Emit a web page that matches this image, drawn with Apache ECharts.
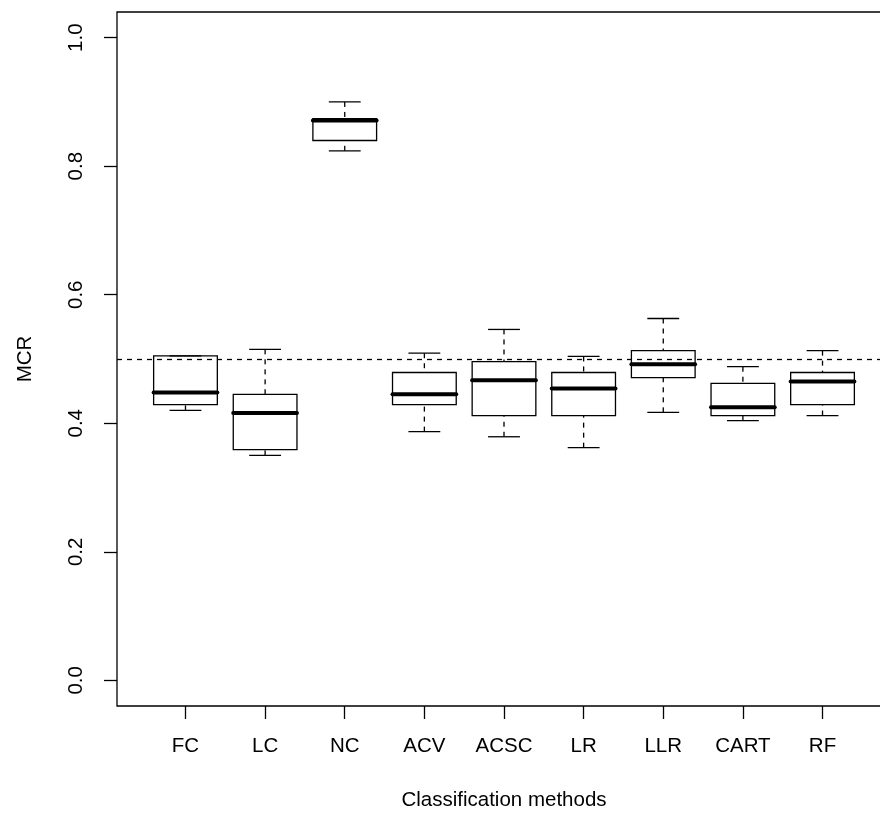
<!DOCTYPE html>
<html>
<head>
<meta charset="utf-8">
<title>MCR by classification method</title>
<script src="https://cdn.jsdelivr.net/npm/echarts@6/dist/echarts.min.js"></script>
<style>
  html, body { margin: 0; padding: 0; background: #fff; }
  #chart { width: 880px; height: 815px; }
</style>
</head>
<body>
<div id="chart"></div>
<script>
// Misclassification rate (MCR) summaries per classification method
const categories = ['FC', 'LC', 'NC', 'ACV', 'ACSC', 'LR', 'LLR', 'CART', 'RF'];
const whiskerLow    = [0.420, 0.350, 0.824, 0.387, 0.379, 0.362, 0.417, 0.404, 0.412];
const lowerQuartile = [0.429, 0.359, 0.840, 0.429, 0.412, 0.412, 0.471, 0.412, 0.429];
const medians       = [0.448, 0.416, 0.871, 0.445, 0.467, 0.454, 0.492, 0.425, 0.465];
const upperQuartile = [0.505, 0.445, 0.874, 0.479, 0.496, 0.479, 0.513, 0.462, 0.479];
const whiskerHigh   = [0.505, 0.515, 0.900, 0.509, 0.546, 0.504, 0.563, 0.488, 0.513];
const yTicks = [0, 0.2, 0.4, 0.6, 0.8, 1.0];
const referenceMCR = 0.5;

const positions = categories.map((_, i) => i + 1);
const boxData = categories.map((_, i) => [
  positions[i], whiskerLow[i], lowerQuartile[i], medians[i], upperQuartile[i], whiskerHigh[i]
]);

const FONT = "'Liberation Sans', Arial, Helvetica, sans-serif";
const FS = 20.5;
const INK = '#000';
const LW = 1.3;

function renderBox(params, api) {
  const x = api.value(0);
  const pLo = api.coord([x, api.value(1)]);
  const pQ1 = api.coord([x, api.value(2)]);
  const pMed = api.coord([x, api.value(3)]);
  const pQ3 = api.coord([x, api.value(4)]);
  const pHi = api.coord([x, api.value(5)]);
  const cx = pMed[0];
  const half = api.size([0.8, 0])[0] / 2;
  const staple = half / 2;
  const solid = { stroke: INK, lineWidth: LW, fill: null };
  const dashed = { stroke: INK, lineWidth: LW, lineDash: [5, 5], fill: null };
  return {
    type: 'group',
    children: [
      { type: 'line', shape: { x1: cx, y1: pHi[1], x2: cx, y2: pQ3[1] }, style: dashed },
      { type: 'line', shape: { x1: cx, y1: pLo[1], x2: cx, y2: pQ1[1] }, style: dashed },
      { type: 'line', shape: { x1: cx - staple, y1: pHi[1], x2: cx + staple, y2: pHi[1] }, style: solid },
      { type: 'line', shape: { x1: cx - staple, y1: pLo[1], x2: cx + staple, y2: pLo[1] }, style: solid },
      { type: 'rect', shape: { x: cx - half, y: pQ3[1], width: 2 * half, height: pQ1[1] - pQ3[1] }, style: solid },
      { type: 'line', shape: { x1: cx - half, y1: pMed[1], x2: cx + half, y2: pMed[1] },
        style: { stroke: INK, lineWidth: 4, lineCap: 'round' } }
    ]
  };
}

const chart = echarts.init(document.getElementById('chart'), null, { renderer: 'canvas' });
chart.setOption({
  backgroundColor: '#fff',
  animation: false,
  textStyle: { fontFamily: FONT },
  grid: {
    left: 117, top: 12, width: 774, height: 694,
    containLabel: false, outerBoundsMode: 'none',
    show: true, borderColor: INK, borderWidth: LW, backgroundColor: 'transparent'
  },
  xAxis: {
    type: 'value', min: 0.14, max: 9.86,
    name: 'Classification methods', nameLocation: 'middle', nameGap: 84,
    nameTextStyle: { fontSize: FS, color: INK, fontFamily: FONT },
    axisLine: { show: false, onZero: false },
    splitLine: { show: false },
    axisTick: { show: true, inside: false, customValues: positions, length: 13, lineStyle: { color: INK, width: LW } },
    axisLabel: {
      customValues: positions, margin: 30, fontSize: FS, color: INK, fontFamily: FONT,
      formatter: v => categories[Math.round(v) - 1]
    }
  },
  yAxis: {
    type: 'value', min: -0.04, max: 1.04,
    name: 'MCR', nameLocation: 'middle', nameGap: 81, nameRotate: 90,
    nameTextStyle: { fontSize: FS, color: INK, fontFamily: FONT },
    axisLine: { show: false, onZero: false },
    splitLine: { show: false },
    axisTick: { show: true, inside: false, customValues: yTicks, length: 13, lineStyle: { color: INK, width: LW } },
    axisLabel: {
      customValues: yTicks, rotate: 90, margin: 30, fontSize: FS, color: INK, fontFamily: FONT,
      formatter: v => v.toFixed(1)
    }
  },
  series: [{
    type: 'custom',
    renderItem: renderBox,
    data: boxData,
    encode: { x: 0, y: [1, 2, 3, 4, 5] },
    clip: true,
    z: 2,
    markLine: {
      silent: true,
      symbol: ['none', 'none'],
      label: { show: false },
      lineStyle: { color: INK, width: LW, type: [5, 5] },
      data: [{ yAxis: referenceMCR }],
      z: 3
    }
  }]
});
</script>
</body>
</html>
